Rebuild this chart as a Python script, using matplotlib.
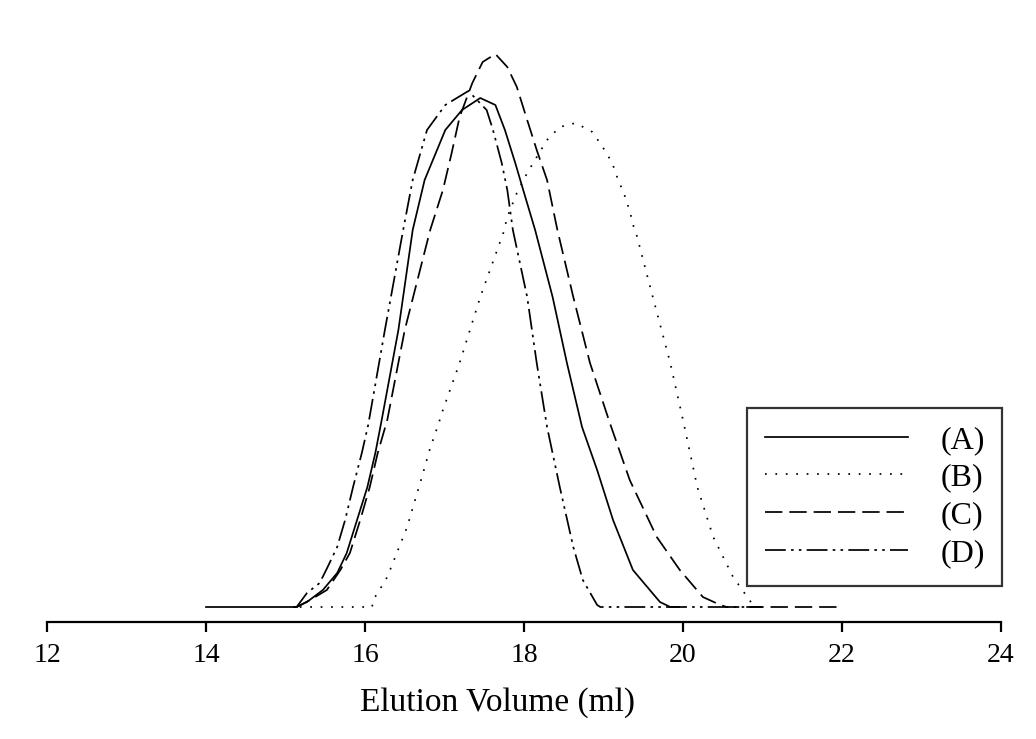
import matplotlib
matplotlib.use("Agg")
import matplotlib.pyplot as plt

plt.rcParams['font.family'] = ['Liberation Serif', 'DejaVu Serif']

# elution profiles (height in arbitrary units, 0 = baseline)
a_x = [14.0, 15.14, 15.27, 15.47, 15.65, 15.77, 15.90, 16.03, 16.13, 16.21, 16.42, 16.60,
       16.75, 17.01, 17.22, 17.45, 17.64, 17.76, 17.89, 17.99, 18.14, 18.36, 18.54, 18.73,
       18.92, 19.12, 19.37, 19.71, 19.84, 19.95]
a_y = [0, 0, 5, 17, 34, 54, 87, 120, 154, 187, 277, 377,
       427, 477, 497, 509, 502, 477, 444, 417, 377, 310, 244, 180,
       137, 87, 37, 5, 0, 0]

b_x = [15.18, 16.09, 16.10, 16.16, 16.28, 16.40, 16.53, 16.63, 16.73, 16.82, 16.92, 16.98,
       17.19, 17.45, 17.74, 17.79, 17.91, 18.04, 18.16, 18.29, 18.45, 18.65, 18.86, 18.99,
       19.11, 19.18, 19.26, 19.33, 19.38, 19.42, 19.62, 19.84, 20.00, 20.18, 20.38, 20.63,
       20.88, 20.93]
b_y = [0, 0, 7, 14, 30, 54, 80, 107, 134, 159, 182, 197,
       244, 310, 374, 390, 414, 434, 450, 467, 480, 484, 475, 460,
       444, 428, 413, 396, 380, 371, 310, 244, 187, 120, 70, 30,
       2, 0]

c_x = [15.10, 15.14, 15.31, 15.52, 15.69, 15.81, 15.94, 16.06, 16.16, 16.28, 16.50, 16.82,
       16.98, 17.09, 17.19, 17.35, 17.48, 17.64, 17.79, 17.91, 18.04, 18.16, 18.29, 18.42,
       18.62, 18.83, 19.08, 19.33, 19.67, 19.96, 20.25, 20.47, 20.55, 22.0]
c_y = [0, 0, 7, 17, 37, 54, 87, 120, 154, 187, 277, 377,
       417, 454, 490, 524, 545, 553, 540, 520, 487, 457, 427, 377,
       310, 244, 184, 127, 70, 37, 10, 2, 0, 0]

d_x = [15.10, 15.14, 15.27, 15.43, 15.53, 15.65, 15.75, 15.85, 15.96, 16.04, 16.25, 16.48,
       16.60, 16.78, 17.01, 17.30, 17.53, 17.61, 17.72, 17.79, 17.86, 18.04, 18.16, 18.29,
       18.45, 18.62, 18.74, 18.92, 18.96, 21.0]
d_y = [0, 0, 14, 24, 40, 60, 87, 120, 154, 182, 277, 377,
       427, 477, 502, 516, 497, 477, 444, 417, 377, 310, 244, 180,
       120, 60, 27, 2, 0, 0]

labels = ['(A)', '(B)', '(C)', '(D)']
xticks = [12, 14, 16, 18, 20, 22, 24]

fig = plt.figure(figsize=(10.36, 7.39), dpi=100)
W, H = 1036, 739
ax = fig.add_axes([47 / W, (H - 622) / H, (1001 - 47) / W, (622 - 30) / H])

lw = 1.25
ax.plot(a_x, a_y, color='black', lw=lw, linestyle='-', label=labels[0])
ax.plot(b_x, b_y, color='black', lw=lw, linestyle=(0, (1, 5)), label=labels[1])
ax.plot(c_x, c_y, color='black', lw=lw, linestyle=(0, (10, 4)), label=labels[2])
ax.plot(d_x, d_y, color='black', lw=lw, linestyle=(0, (12, 3, 1.5, 3, 1.5, 3)), label=labels[3])

ax.set_xlim(12, 24)
ax.set_ylim(-15, 577)
ax.set_xticks(xticks)
ax.set_yticks([])
for s in ['top', 'left', 'right']:
    ax.spines[s].set_visible(False)
ax.spines['bottom'].set_linewidth(1.6)
ax.tick_params(axis='x', direction='out', length=7, width=1.6, labelsize=20, pad=8)
ax.set_xlabel('Elution Volume (ml)', fontsize=24, va='center')
ax.xaxis.set_label_coords((497 - 47) / 954, (622 - 703) / 592)

leg = ax.legend(loc='upper left', bbox_to_anchor=((747 - 47) / 954, (622 - 408) / 592),
                frameon=True, fancybox=False, edgecolor='black', fontsize=23,
                handlelength=4.5, handletextpad=1.0, labelspacing=0.26,
                borderpad=0.55, borderaxespad=0)
leg.get_frame().set_linewidth(1.6)

fig.savefig('out.png', dpi=100)
